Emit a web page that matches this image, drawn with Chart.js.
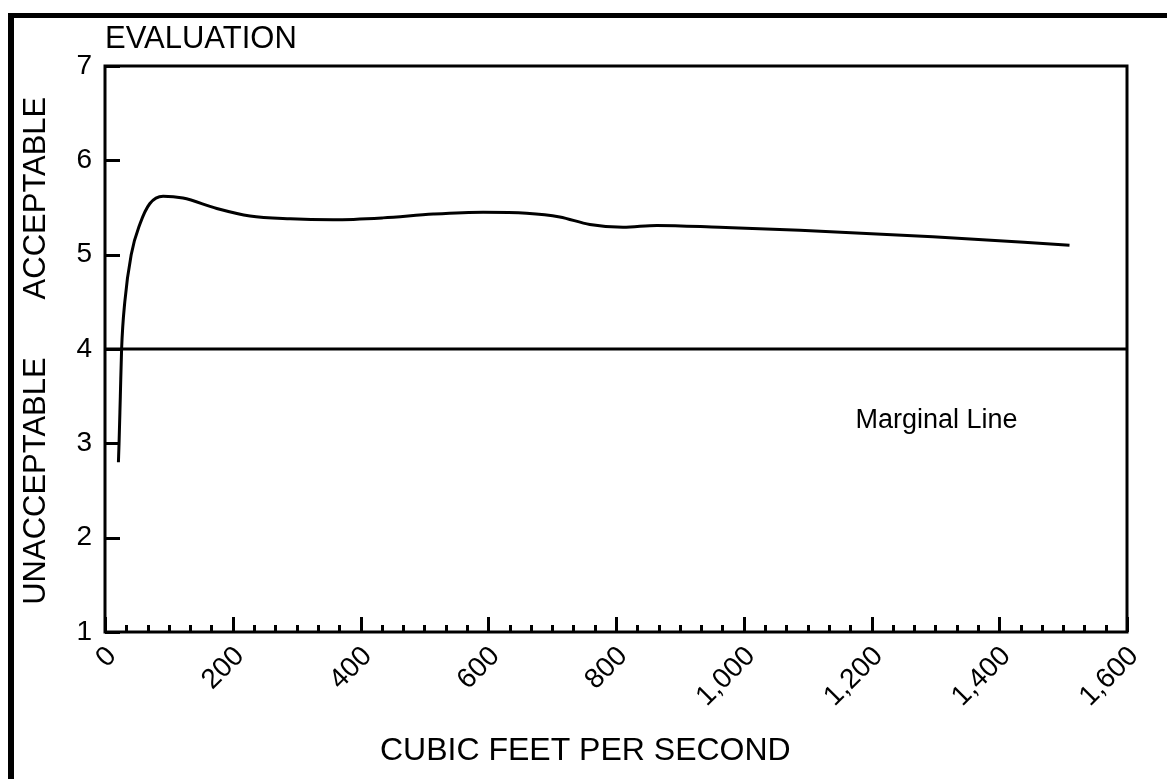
<!DOCTYPE html>
<html>
<head>
<meta charset="utf-8">
<title>Evaluation vs Flow</title>
<script src="https://cdn.jsdelivr.net/npm/chart.js@4"></script>
<style>
    html, body { margin: 0; padding: 0; background: #fff; }
    canvas { display: block; }
</style>
</head>
<body>
<canvas id="flow-chart" width="1167" height="779"></canvas>
<script>
'use strict';

// ==================== DATA ====================

const flowCfs = [21, 22, 24, 26, 31, 41, 55, 70, 91, 122, 175, 227, 290, 357, 435, 514, 592, 660, 712, 759, 811, 864, 962, 1088, 1296, 1510];
const evaluation = [2.8, 3.0, 3.5, 4.0, 4.5, 5.0, 5.33, 5.54, 5.62, 5.60, 5.49, 5.41, 5.38, 5.37, 5.39, 5.43, 5.45, 5.44, 5.40, 5.32, 5.29, 5.31, 5.29, 5.26, 5.19, 5.10];

const marginalCfs = [0, 1600];
const marginalLevel = [4, 4];

const xTickValues = [0, 200, 400, 600, 800, 1000, 1200, 1400, 1600];
const yTickValues = [1, 2, 3, 4, 5, 6, 7];

const FONT = '"Liberation Sans", Arial, sans-serif';

// ==================== FRAME / TICKS / NOTES ====================

const framePlugin = {
    id: 'frame',
    beforeDraw(chart) {
        const ctx = chart.ctx;
        ctx.save();
        ctx.fillStyle = '#fff';
        ctx.fillRect(0, 0, chart.width, chart.height);
        // outer border (left and top only visible)
        ctx.fillStyle = '#000';
        ctx.fillRect(8, 13, 6, chart.height);
        ctx.fillRect(8, 13, chart.width, 5);
        ctx.restore();
    },
    afterDatasetsDraw(chart) {
        const { ctx, chartArea: a, scales: { x, y } } = chart;
        ctx.save();
        ctx.strokeStyle = '#000';
        ctx.lineWidth = 3;
        ctx.strokeRect(a.left, a.top, a.right - a.left, a.bottom - a.top);

        // x ticks drawn inward: majors every 200, 6 minors between
        ctx.beginPath();
        for (let i = 0; i < xTickValues.length - 1; i++) {
            const v0 = xTickValues[i];
            const step = (xTickValues[i + 1] - v0) / 6;
            for (let k = 0; k <= 6; k++) {
                const px = Math.round(x.getPixelForValue(v0 + k * step)) + 0.5;
                const len = k === 0 || k === 6 ? 15 : 7;
                ctx.moveTo(px, a.bottom);
                ctx.lineTo(px, a.bottom - len);
            }
        }
        // y ticks drawn inward
        yTickValues.forEach(v => {
            const py = Math.round(y.getPixelForValue(v)) + 0.5;
            ctx.moveTo(a.left, py);
            ctx.lineTo(a.left + 15, py);
        });
        ctx.stroke();

        ctx.fillStyle = '#000';
        ctx.font = '31px ' + FONT;
        ctx.textAlign = 'left';
        ctx.textBaseline = 'alphabetic';
        ctx.fillText('EVALUATION', a.left, a.top - 18);

        ctx.font = '27px ' + FONT;
        ctx.fillText('Marginal Line', x.getPixelForValue(1175), y.getPixelForValue(3.16));

        // x axis title, sits a little left of the plot centre
        ctx.font = '32px ' + FONT;
        ctx.textAlign = 'center';
        ctx.fillText('CUBIC FEET PER SECOND', x.getPixelForValue(752), 760);

        // side labels for the two zones
        ctx.font = '31px ' + FONT;
        [['ACCEPTABLE', 5.6], ['UNACCEPTABLE', 2.6]].forEach(([txt, v]) => {
            ctx.save();
            ctx.translate(45, y.getPixelForValue(v));
            ctx.rotate(-Math.PI / 2);
            ctx.fillText(txt, 0, 0);
            ctx.restore();
        });
        ctx.restore();
    }
};

// ==================== CHART ====================

const ctx = document.getElementById('flow-chart').getContext('2d');

new Chart(ctx, {
    type: 'line',
    data: {
        datasets: [
            {
                label: 'Evaluation',
                data: flowCfs.map((f, i) => ({ x: f, y: evaluation[i] })),
                borderColor: '#000',
                borderWidth: 3,
                pointRadius: 0,
                cubicInterpolationMode: 'monotone',
                fill: false
            },
            {
                label: 'Marginal Line',
                data: marginalCfs.map((f, i) => ({ x: f, y: marginalLevel[i] })),
                borderColor: '#000',
                borderWidth: 3,
                pointRadius: 0,
                fill: false
            }
        ]
    },
    options: {
        responsive: false,
        animation: false,
        devicePixelRatio: 1,
        layout: { padding: { top: 66, right: 40, left: 0, bottom: 0 } },
        scales: {
            x: {
                type: 'linear',
                min: 0,
                max: 1600,
                grid: { display: false, drawTicks: false },
                border: { display: false },
                afterBuildTicks: scale => { scale.ticks = xTickValues.map(v => ({ value: v })); },
                afterFit: scale => { scale.height = 147; },
                ticks: {
                    color: '#000',
                    font: { family: FONT, size: 28 },
                    autoSkip: false,
                    minRotation: 45,
                    maxRotation: 45,
                    padding: 8,
                    labelOffset: 7,
                    callback: v => v.toLocaleString('en-US')
                }
            },
            y: {
                min: 1,
                max: 7,
                grid: { display: false, drawTicks: false },
                border: { display: false },
                afterBuildTicks: scale => { scale.ticks = yTickValues.map(v => ({ value: v })); },
                afterFit: scale => { scale.width = 105; },
                ticks: {
                    color: '#000',
                    font: { family: FONT, size: 28 },
                    padding: 13
                }
            }
        },
        plugins: {
            legend: { display: false },
            tooltip: { enabled: false }
        }
    },
    plugins: [framePlugin]
});
</script>
</body>
</html>
